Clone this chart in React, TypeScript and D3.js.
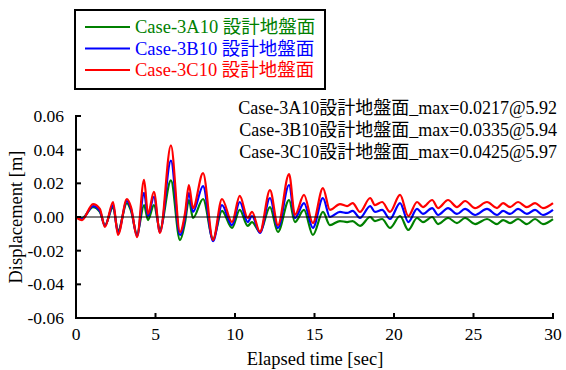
import React from "react";
import * as d3 from "d3";

const times = [0, 0.38, 1.07, 1.5, 1.82, 2.33, 2.64, 3.2, 3.46, 3.84, 4.28, 4.53, 4.9, 5.28, 5.97, 6.54, 6.86, 7.1, 7.36, 7.99, 8.62, 9.18, 9.81, 10.3, 10.8, 11.07, 11.57, 12.2, 12.7, 13.4, 13.77, 14.34, 14.9, 15.53, 15.97, 16.6, 17.05, 17.4, 17.86, 18.5, 18.8, 19.25, 19.75, 20.38, 20.9, 21.45, 21.82, 22.4, 22.77, 23.4, 23.96, 24.47, 25.1, 25.85, 26.48, 26.86, 27.3, 27.8, 28.36, 28.87, 29.37, 30];

const caseA = [0, -0.0006, 0.0059, 0.003, -0.0048, 0.0059, -0.0083, 0.0083, 0.0036, -0.0101, 0.0071, -0.0018, 0.0071, -0.0071, 0.0217, -0.0137, -0.003, 0.0101, -0.0006, 0.0107, -0.0131, 0.0036, -0.0065, 0.0042, -0.0053, -0.003, -0.0089, 0.0059, -0.0089, 0.0101, -0.003, 0.0042, -0.0107, 0.003, -0.0048, -0.0024, -0.003, -0.0024, -0.0053, 0, -0.0024, -0.0012, -0.0065, 0.0006, -0.0077, -0.0006, -0.003, 0, -0.0042, -0.0006, -0.0036, -0.0006, -0.0042, -0.0012, -0.0042, -0.0018, -0.0036, -0.0012, -0.0042, -0.0012, -0.0042, -0.0012];

const caseB = [0, -0.0012, 0.0065, 0.0036, -0.0053, 0.0071, -0.0095, 0.0095, 0.0048, -0.0113, 0.0143, 0.0006, 0.0119, -0.0089, 0.0335, -0.0107, 0, 0.0143, 0.003, 0.0184, -0.0143, 0.0071, -0.0048, 0.0089, -0.003, 0.0006, -0.0095, 0.0113, -0.0065, 0.019, -0.0006, 0.0083, -0.0065, 0.0113, 0, 0.003, 0.0024, 0.0036, -0.0006, 0.0065, 0.003, 0.0042, -0.0012, 0.0083, -0.003, 0.0048, 0.0018, 0.0053, 0.0012, 0.0053, 0.0018, 0.0048, 0.0012, 0.0048, 0.0012, 0.0036, 0.0018, 0.0048, 0.0018, 0.0042, 0.0012, 0.0042];

const caseC = [0, -0.0018, 0.0077, 0.0048, -0.0059, 0.0089, -0.0107, 0.0107, 0.0059, -0.0119, 0.022, 0.0018, 0.0149, -0.0095, 0.0425, -0.0089, 0.0024, 0.019, 0.0053, 0.0261, -0.0137, 0.0107, -0.003, 0.0125, -0.0006, 0.003, -0.0089, 0.016, -0.0048, 0.0255, 0.0012, 0.0131, -0.0036, 0.0172, 0.0042, 0.0077, 0.0065, 0.0083, 0.003, 0.0113, 0.0071, 0.0089, 0.003, 0.0131, 0.0006, 0.0089, 0.0059, 0.0101, 0.0053, 0.0101, 0.0059, 0.0095, 0.0053, 0.0089, 0.0053, 0.0083, 0.0059, 0.0089, 0.0059, 0.0083, 0.0053, 0.0083];

const seriesNames = ["Case-3A10 設計地盤面", "Case-3B10 設計地盤面", "Case-3C10 設計地盤面"];
const seriesColors = ["#008000", "#0000ff", "#ff0000"];
const maxLabels = [
  "Case-3A10設計地盤面_max=0.0217@5.92",
  "Case-3B10設計地盤面_max=0.0335@5.94",
  "Case-3C10設計地盤面_max=0.0425@5.97",
];
const xTicks = [0, 5, 10, 15, 20, 25, 30];
const yTicks = [0.06, 0.04, 0.02, 0, -0.02, -0.04, -0.06];

const FONT = "'Liberation Serif', 'Times New Roman', 'Noto Sans CJK JP', serif";

export default function App() {
  const W = 566, H = 370;
  const x = d3.scaleLinear().domain([0, 30]).range([76, 553]);
  const y = d3.scaleLinear().domain([-0.06, 0.06]).range([318, 116]);
  const line = d3
    .line<number>()
    .x((_, i) => x(times[i]))
    .y((d) => y(d))
    .curve(d3.curveMonotoneX);
  const series = [caseA, caseB, caseC];

  return (
    <svg width={W} height={H} style={{ position: "absolute", left: 0, top: 0, background: "#fff" }} fontFamily={FONT}>
      <rect x={0} y={0} width={W} height={H} fill="#fff" />
      {series.map((s, i) => (
        <path key={i} d={line(s) || ""} fill="none" stroke={seriesColors[i]} strokeWidth={2.2} strokeLinejoin="round" />
      ))}
      <line x1={x(0)} x2={x(30)} y1={y(0)} y2={y(0)} stroke="#000" strokeWidth={1} />
      <line x1={x(0)} x2={x(0)} y1={y(0.06) - 1} y2={y(-0.06) + 1} stroke="#000" strokeWidth={2} />
      <line x1={x(0) - 1} x2={x(30) + 1} y1={y(-0.06)} y2={y(-0.06)} stroke="#000" strokeWidth={2} />
      {yTicks.map((t) => (
        <g key={"y" + t}>
          <line x1={x(0)} x2={x(0) + 5} y1={y(t)} y2={y(t)} stroke="#000" strokeWidth={2} />
          <text x={64} y={y(t)} dy="0.35em" textAnchor="end" fontSize={17.5}>
            {t.toFixed(2)}
          </text>
        </g>
      ))}
      {xTicks.map((t) => (
        <g key={"x" + t}>
          <line x1={x(t)} x2={x(t)} y1={y(-0.06)} y2={y(-0.06) - 5} stroke="#000" strokeWidth={2} />
          <text x={x(t)} y={340} textAnchor="middle" fontSize={17.5}>
            {t}
          </text>
        </g>
      ))}
      <text x={315} y={365} textAnchor="middle" fontSize={18.5}>
        Elapsed time [sec]
      </text>
      <text transform={`translate(22,${(y(0.06) + y(-0.06)) / 2}) rotate(-90)`} textAnchor="middle" fontSize={18.5}>
        Displacement [m]
      </text>
      {maxLabels.map((m, i) => (
        <text key={m} x={557} y={114 + i * 22} textAnchor="end" fontSize={18}>
          {m}
        </text>
      ))}
      <rect x={75} y={10} width={250} height={79} fill="#fff" stroke="#000" strokeWidth={2} />
      {seriesNames.map((n, i) => (
        <g key={n}>
          <line x1={85} x2={130} y1={27 + i * 21.5} y2={27 + i * 21.5} stroke={seriesColors[i]} strokeWidth={2} />
          <text x={135} y={27 + i * 21.5} dy="0.35em" fill={seriesColors[i]} fontSize={18.5}>
            {n}
          </text>
        </g>
      ))}
    </svg>
  );
}
